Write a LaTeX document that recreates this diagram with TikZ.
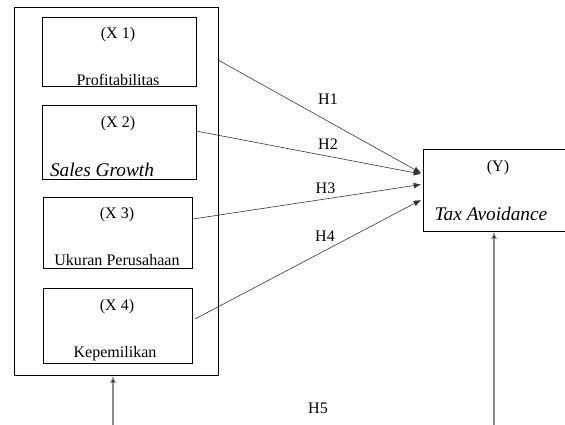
\documentclass[tikz,border=0pt]{standalone}
\usepackage{fontspec}
\setmainfont{Liberation Serif}
\usetikzlibrary{arrows.meta}

\tikzset{
  varbox/.style={draw,line width=0.8pt,inner sep=0pt},
  lbl/.style={anchor=base,inner sep=0pt,font=\fontsize{13.7}{15}\selectfont},
  itlbl/.style={anchor=base,inner sep=0pt,font=\fontsize{16.5}{18}\selectfont\itshape},
  hyp/.style={draw=black!80,line width=0.5pt,-{Latex[length=2.2mm,width=1.8mm]}},
  uparrow/.style={draw=black!45,line width=0.9pt,-{Latex[length=2.2mm,width=1.8mm,fill=black]}}
}

\begin{document}
\begin{tikzpicture}[x=0.03cm,y=-0.03cm]
\useasboundingbox (0,0) rectangle (565,425);
% boxes
\node[varbox,minimum width=6.12cm,minimum height=11.04cm] (outer) at (116,191) {};
\node[varbox,minimum width=4.62cm,minimum height=2.07cm] (x1) at (119,51.5) {};
\node[varbox,minimum width=4.62cm,minimum height=2.22cm] (x2) at (119,142) {};
\node[varbox,minimum width=4.47cm,minimum height=2.13cm] (x3) at (117.5,232.5) {};
\node[varbox,minimum width=4.47cm,minimum height=2.25cm] (x4) at (117.5,325.5) {};
\node[varbox,minimum width=4.44cm,minimum height=2.46cm] (y) at (497,190) {};
% texts
\node[lbl] (x1a) at (118,39) {(X 1)};
\node[lbl] (x1b) at (118,85.5) {Profitabilitas};
\node[lbl] (x2a) at (118,127) {(X 2)};
\node[itlbl] (x2b) at (102,176) {Sales Growth};
\node[lbl] (x3a) at (117,218) {(X 3)};
\node[lbl] (x3b) at (117,265) {Ukuran Perusahaan};
\node[lbl] (x4a) at (117,310) {(X 4)};
\node[lbl] (x4b) at (115,357) {Kepemilikan};
\node[lbl] (ya) at (498,171) {(Y)};
\node[itlbl] (yb) at (491,220) {Tax Avoidance};
\node[lbl] (h1) at (328,105) {H1};
\node[lbl] (h2) at (328,149) {H2};
\node[lbl] (h3) at (325.5,193) {H3};
\node[lbl] (h4) at (325,241) {H4};
\node[lbl] (h5) at (318,413) {H5};
% connector ends
\coordinate (s1) at (218,60);
\coordinate (s2) at (196,131);
\coordinate (s3) at (193,219);
\coordinate (s4) at (195,319);
\coordinate (t1) at (421,173);
\coordinate (t2) at (421,174);
\coordinate (t3) at (421,184.5);
\coordinate (t4) at (421,200);
\coordinate (b1) at (113,426);
\coordinate (b2) at (494,426);
% arrows
\draw[hyp] (s1) -- (t1);
\draw[hyp] (s2) -- (t2);
\draw[hyp] (s3) -- (t3);
\draw[hyp] (s4) -- (t4);
\draw[uparrow] (b1) -- (outer.south -| b1);
\draw[uparrow] (b2) -- (y.south -| b2);
\end{tikzpicture}
\end{document}
